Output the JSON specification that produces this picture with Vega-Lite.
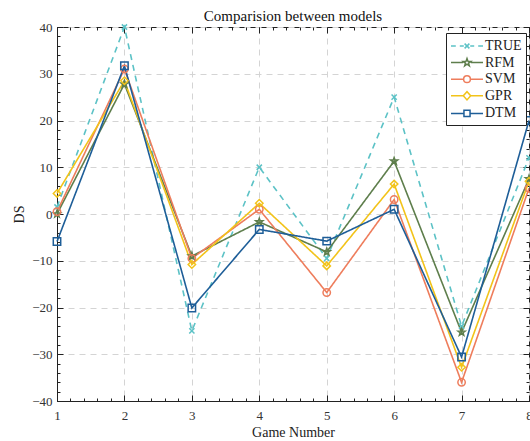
{
  "$schema": "https://vega.github.io/schema/vega-lite/v6.json",
  "width": 472,
  "height": 374,
  "autosize": {"type": "none"},
  "padding": {"left": 57, "top": 27, "right": 1, "bottom": 40},
  "background": "white",
  "title": {"text": "Comparision between models", "font": "Liberation Serif", "fontSize": 15, "fontWeight": "normal", "color": "#111", "offset": -3},
  "config": {
    "view": {"stroke": "#222", "strokeWidth": 1},
    "axis": {"labelFont": "Liberation Serif", "labelFontSize": 13, "labelColor": "#333", "titleFont": "Liberation Serif", "titleFontSize": 14, "titleFontWeight": "normal", "titleColor": "#222", "domainColor": "#222", "tickColor": "#222"}
  },
  "data": {"values": [
    {"game": 1, "model": "TRUE", "ds": 1.5}, {"game": 2, "model": "TRUE", "ds": 40}, {"game": 3, "model": "TRUE", "ds": -25}, {"game": 4, "model": "TRUE", "ds": 10}, {"game": 5, "model": "TRUE", "ds": -9.5}, {"game": 6, "model": "TRUE", "ds": 25}, {"game": 7, "model": "TRUE", "ds": -24}, {"game": 8, "model": "TRUE", "ds": 12},
    {"game": 1, "model": "RFM", "ds": 0}, {"game": 2, "model": "RFM", "ds": 27.8}, {"game": 3, "model": "RFM", "ds": -9}, {"game": 4, "model": "RFM", "ds": -1.7}, {"game": 5, "model": "RFM", "ds": -8.1}, {"game": 6, "model": "RFM", "ds": 11.3}, {"game": 7, "model": "RFM", "ds": -25.3}, {"game": 8, "model": "RFM", "ds": 7.5},
    {"game": 1, "model": "SVM", "ds": 0.5}, {"game": 2, "model": "SVM", "ds": 31}, {"game": 3, "model": "SVM", "ds": -9.5}, {"game": 4, "model": "SVM", "ds": 1}, {"game": 5, "model": "SVM", "ds": -16.8}, {"game": 6, "model": "SVM", "ds": 3.1}, {"game": 7, "model": "SVM", "ds": -36}, {"game": 8, "model": "SVM", "ds": 5.5},
    {"game": 1, "model": "GPR", "ds": 4.4}, {"game": 2, "model": "GPR", "ds": 28.5}, {"game": 3, "model": "GPR", "ds": -10.8}, {"game": 4, "model": "GPR", "ds": 2.3}, {"game": 5, "model": "GPR", "ds": -11.1}, {"game": 6, "model": "GPR", "ds": 6.4}, {"game": 7, "model": "GPR", "ds": -32.8}, {"game": 8, "model": "GPR", "ds": 7},
    {"game": 1, "model": "DTM", "ds": -5.9}, {"game": 2, "model": "DTM", "ds": 31.7}, {"game": 3, "model": "DTM", "ds": -20.1}, {"game": 4, "model": "DTM", "ds": -3.3}, {"game": 5, "model": "DTM", "ds": -5.8}, {"game": 6, "model": "DTM", "ds": 1}, {"game": 7, "model": "DTM", "ds": -30.6}, {"game": 8, "model": "DTM", "ds": 20}
  ]},
  "resolve": {"axis": {"x": "independent", "y": "independent"}, "scale": {"color": "independent", "shape": "independent"}},
  "layer": [
    {
      "mark": {"type": "line", "strokeWidth": 1.6, "clip": false},
      "encoding": {
        "x": {"field": "game", "type": "quantitative", "scale": {"domain": [1, 8], "nice": false, "zero": false},
          "axis": {"orient": "bottom", "values": [1, 2, 3, 4, 5, 6, 7, 8], "tickSize": -6, "labelPadding": 14, "title": "Game Number", "titlePadding": 3, "grid": true, "gridDash": [6, 5], "gridColor": "#d4d4d4", "labelFlush": false}},
        "y": {"field": "ds", "type": "quantitative", "scale": {"domain": [-40, 40], "nice": false, "zero": false},
          "axis": {"orient": "left", "values": [-40, -30, -20, -10, 0, 10, 20, 30, 40], "tickSize": -6, "labelPadding": 11, "title": "DS", "titlePadding": 5, "grid": true, "gridDash": [6, 5], "gridColor": "#d4d4d4"}},
        "color": {"field": "model", "type": "nominal", "scale": {"domain": ["TRUE", "RFM", "SVM", "GPR", "DTM"], "range": ["#5cc2c6", "#5e7e4c", "#ee7d5c", "#f2c31a", "#1e5e98"]}, "legend": null},
        "strokeDash": {"field": "model", "type": "nominal", "scale": {"domain": ["TRUE", "RFM", "SVM", "GPR", "DTM"], "range": [[6, 5], [1, 0], [1, 0], [1, 0], [1, 0]]}, "legend": null},
        "order": {"field": "game", "type": "quantitative"}
      }
    },
    {
      "mark": {"type": "point", "filled": false, "strokeWidth": 1.5, "size": 55, "opacity": 1, "clip": false},
      "encoding": {
        "x": {"field": "game", "type": "quantitative",
          "axis": {"orient": "bottom", "values": [1, 1.2, 1.4, 1.6, 1.8, 2, 2.2, 2.4, 2.6, 2.8, 3, 3.2, 3.4, 3.6, 3.8, 4, 4.2, 4.4, 4.6, 4.8, 5, 5.2, 5.4, 5.6, 5.8, 6, 6.2, 6.4, 6.6, 6.8, 7, 7.2, 7.4, 7.6, 7.8, 8], "tickSize": -3, "labels": false, "domain": false, "grid": false, "title": null}},
        "y": {"field": "ds", "type": "quantitative",
          "axis": {"orient": "left", "values": [-40, -38, -36, -34, -32, -30, -28, -26, -24, -22, -20, -18, -16, -14, -12, -10, -8, -6, -4, -2, 0, 2, 4, 6, 8, 10, 12, 14, 16, 18, 20, 22, 24, 26, 28, 30, 32, 34, 36, 38, 40], "tickSize": -3, "labels": false, "domain": false, "grid": false, "title": null}},
        "color": {"field": "model", "type": "nominal", "scale": {"domain": ["TRUE", "RFM", "SVM", "GPR", "DTM"], "range": ["#5cc2c6", "#5e7e4c", "#ee7d5c", "#f2c31a", "#1e5e98"]}, "legend": null},
        "shape": {"field": "model", "type": "nominal", "scale": {"domain": ["TRUE", "RFM", "SVM", "GPR", "DTM"], "range": [
          "M-0.7,-0.7L0.7,0.7M-0.7,0.7L0.7,-0.7",
          "M0,-1L0.236,-0.324L0.951,-0.309L0.382,0.124L0.588,0.809L0,0.4L-0.588,0.809L-0.382,0.124L-0.951,-0.309L-0.236,-0.324Z",
          "circle", "diamond", "square"]}, "legend": null}
      }
    },
    {
      "transform": [{"filter": "false"}],
      "mark": {"type": "point", "filled": false, "strokeWidth": 1.5},
      "encoding": {
        "x": {"field": "game", "type": "quantitative",
          "axis": {"orient": "top", "values": [1, 2, 3, 4, 5, 6, 7, 8], "tickSize": -6, "labels": false, "domain": false, "grid": false, "title": null}},
        "y": {"field": "ds", "type": "quantitative",
          "axis": {"orient": "right", "values": [-40, -30, -20, -10, 0, 10, 20, 30, 40], "tickSize": -6, "labels": false, "domain": false, "grid": false, "title": null}},
        "color": {"field": "model", "type": "nominal", "scale": {"domain": ["TRUE", "RFM", "SVM", "GPR", "DTM"], "range": ["#5cc2c6", "#5e7e4c", "#ee7d5c", "#f2c31a", "#1e5e98"]},
          "legend": {"orient": "none", "legendX": 389, "legendY": 6, "title": null, "strokeColor": "#222", "fillColor": "white", "padding": 4, "symbolSize": 256, "symbolStrokeWidth": 1.5, "symbolFillColor": "transparent", "labelFont": "Liberation Serif", "labelFontSize": 14, "labelColor": "#222", "labelOffset": 17, "rowPadding": 0.6, "symbolOpacity": 1}},
        "shape": {"field": "model", "type": "nominal", "scale": {"domain": ["TRUE", "RFM", "SVM", "GPR", "DTM"], "range": [
          "M-1,0H-0.4M0.1,0H0.6M1.4,0H1.9M2.4,0H3M0.7,-0.3L1.3,0.3M0.7,0.3L1.3,-0.3",
          "M-1,0H0.52M1.48,0H3M1,-0.5L1.118,-0.162L1.476,-0.154L1.19,0.062L1.294,0.404L1,0.2L0.706,0.404L0.81,0.062L0.524,-0.154L0.882,-0.162Z",
          "M-1,0H0.58M1.42,0H3M0.58,0A0.42,0.42 0 1,0 1.42,0A0.42,0.42 0 1,0 0.58,0Z",
          "M-1,0H0.54M1.46,0H3M0.54,0L1,-0.52L1.46,0L1,0.52Z",
          "M-1,0H0.62M1.38,0H3M0.62,-0.38H1.38V0.38H0.62Z"]},
          "legend": {"orient": "none", "legendX": 389, "legendY": 6, "title": null}}
      }
    },
    {
      "transform": [{"filter": "false"}],
      "mark": {"type": "point"},
      "encoding": {
        "x": {"field": "game", "type": "quantitative",
          "axis": {"orient": "top", "values": [1, 1.2, 1.4, 1.6, 1.8, 2, 2.2, 2.4, 2.6, 2.8, 3, 3.2, 3.4, 3.6, 3.8, 4, 4.2, 4.4, 4.6, 4.8, 5, 5.2, 5.4, 5.6, 5.8, 6, 6.2, 6.4, 6.6, 6.8, 7, 7.2, 7.4, 7.6, 7.8, 8], "tickSize": -3, "labels": false, "domain": false, "grid": false, "title": null}},
        "y": {"field": "ds", "type": "quantitative",
          "axis": {"orient": "right", "values": [-40, -38, -36, -34, -32, -30, -28, -26, -24, -22, -20, -18, -16, -14, -12, -10, -8, -6, -4, -2, 0, 2, 4, 6, 8, 10, 12, 14, 16, 18, 20, 22, 24, 26, 28, 30, 32, 34, 36, 38, 40], "tickSize": -3, "labels": false, "domain": false, "grid": false, "title": null}}
      }
    }
  ]
}
